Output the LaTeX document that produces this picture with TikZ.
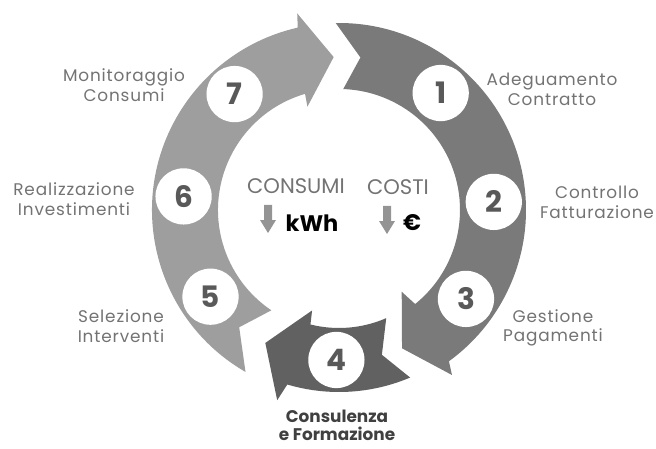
\documentclass[tikz,border=0pt]{standalone}
\usepackage{fontspec}
\setmainfont{Poppins}
\definecolor{ringlight}{gray}{0.62}
\definecolor{ringmid}{gray}{0.48}
\definecolor{ringdark}{gray}{0.38}
\definecolor{numgray}{gray}{0.35}
\definecolor{labelgray}{gray}{0.45}
\definecolor{downgray}{gray}{0.58}

\begin{document}
\begin{tikzpicture}[x=0.025cm, y=0.025cm,
    stepnum/.style={circle, fill=white, minimum size=40pt, inner sep=0pt,
      text=numgray, font=\bfseries\fontsize{21}{21}\selectfont},
    steplabel/.style={align=center, text=labelgray,
      font=\fontsize{12}{14}\selectfont\addfontfeature{LetterSpace=5}},
    centerword/.style={text=labelgray, font=\fontsize{15}{15}\selectfont},
    unitword/.style={text=black, font=\bfseries\fontsize{16}{16}\selectfont}]
  \useasboundingbox (0,0) rectangle (656,448);

  % Ring arrows
  \begin{scope}[shift={(339,238)}]
    \fill[ringlight] (240:187) arc[start angle=240, end angle=102.75, radius=187]
      -- (102:201) -- (92:153) -- (107:108) -- (106.3:121)
      arc[start angle=106.3, end angle=236, radius=121] -- (229.6:154) -- cycle;
    \fill[ringmid] (91:187) arc[start angle=91, end angle=-54, radius=187]
      -- (-55.6:200) -- (-65.5:152) -- (-52.5:103) -- (-51:121)
      arc[start angle=-51, end angle=88, radius=121] -- (82:154) -- cycle;
    \fill[ringdark] (-67:182) arc[start angle=-67, end angle=-106.5, radius=182]
      -- (-108:200) -- (-119:152) -- (-105:104) -- (-104:118)
      arc[start angle=-104, end angle=-66.4, radius=118] -- (-73.5:151) -- cycle;

    % Steps
    \node[stepnum] (n1) at (49:155) {1};
    \node[stepnum] (n2) at (3:155) {2};
    \node[stepnum] (n3) at (-35:155) {3};
    \node[stepnum] (n4) at (-91:150) {4};
    \node[stepnum] (n5) at (-146:155) {5};
    \node[stepnum] (n6) at (175:156) {6};
    \node[stepnum] (n7) at (132:156) {7};
  \end{scope}

  % Labels
  \node[steplabel] (lab1) at (552,359) {Adeguamento\\Contratto};
  \node[steplabel] (lab2) at (597,246) {Controllo\\Fatturazione};
  \node[steplabel] (lab3) at (553,120) {Gestione\\Pagamenti};
  \node[steplabel, inner sep=1pt, text=black!75, font=\bfseries\fontsize{12}{13}\selectfont] (lab4) at (337,23) {Consulenza\\e Formazione};
  \node[steplabel] (lab5) at (121,122) {Selezione\\Interventi};
  \node[steplabel] (lab6) at (74,249) {Realizzazione\\Investimenti};
  \node[steplabel] (lab7) at (124,363) {Monitoraggio\\Consumi};

  % Centre
  \node[centerword] (consumi) at (296,262) {CONSUMI};
  \node[centerword] (costi) at (398,261) {COSTI};
  \node[unitword] (kwh) at (312,225) {kWh};
  \node[unitword] (euro) at (412,225) {€};
  \foreach \p in {(268,229),(387,228)}
    \fill[downgray, shift={\p}] (-4,14) -- (4,14) -- (4,-1) -- (8,-1) -- (0,-14) -- (-8,-1) -- (-4,-1) -- cycle;
\end{tikzpicture}
\end{document}
